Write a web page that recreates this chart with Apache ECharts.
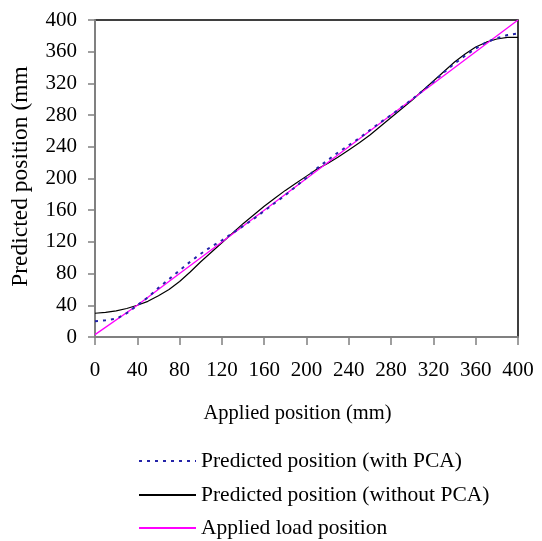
<!DOCTYPE html>
<html>
<head>
<meta charset="utf-8">
<script src="https://cdn.jsdelivr.net/npm/echarts@6/dist/echarts.min.js"></script>
<style>
  html, body { margin: 0; padding: 0; background: #fff; }
  #box { width: 542px; height: 541px; }
</style>
</head>
<body>
<div id="box"></div>
<script>
// applied position (mm), sampled every 10 mm
const appliedX = [0, 10, 20, 30, 40, 50, 60, 70, 80, 90, 100, 110, 120, 130, 140, 150, 160, 170, 180, 190, 200,
  210, 220, 230, 240, 250, 260, 270, 280, 290, 300, 310, 320, 330, 340, 350, 360, 370, 380, 390, 400];
// predicted position with PCA (dotted)
const withPca = [20, 21, 23, 30, 40, 50, 62, 73, 84, 95, 105, 114, 122, 131, 140, 149, 159, 169, 179, 190, 201,
  213, 223, 233, 242, 251, 261, 271, 280, 290, 300, 311, 322, 334, 345, 355, 364, 372, 377, 381, 383];
// predicted position without PCA (black)
const withoutPca = [30, 31, 33, 36, 40, 45, 52, 60, 70, 82, 95, 107, 119, 131, 143, 154, 165, 175, 185, 194, 203,
  212, 219, 227, 236, 245, 255, 266, 277, 288, 299, 311, 323, 335, 347, 357, 366, 372, 376, 378, 378];
// applied load position (reference line)
const loadX = [0, 40, 80, 120, 160, 200, 240, 280, 320, 360, 400];
const loadY = [3, 40, 80, 120, 160, 200, 240, 280, 320, 360, 400];

const seriesNames = ["Predicted position (with PCA)", "Predicted position (without PCA)", "Applied load position"];
const serif = "Liberation Serif";

let chart = echarts.init(document.getElementById("box"));

// one legend per row so the rows stay in a single column
const legendTops = [445, 479, 512];
const legends = seriesNames.map((name, i) => ({
  data: [name],
  left: 133,
  top: legendTops[i],
  itemWidth: 57,
  itemHeight: 14,
  itemStyle: { color: "rgba(0,0,0,0)", borderWidth: 0 },
  textStyle: { fontFamily: serif, fontSize: 21.5, color: "#000" }
}));

let option = {
  backgroundColor: "#fff",
  animation: false,
  grid: {
    left: 95, top: 20, right: 24, bottom: 204,
    show: true, borderColor: "#000", borderWidth: 1.5
  },
  legend: legends,
  xAxis: {
    type: "value",
    min: 0, max: 400, interval: 40,
    name: "Applied position (mm)",
    nameLocation: "middle",
    nameGap: 66,
    nameTextStyle: { fontFamily: serif, fontSize: 20.5, color: "#000", padding: [0, 18, 0, 0] },
    axisLine: { lineStyle: { color: "#808080", width: 2 } },
    axisTick: { show: true, length: 8, lineStyle: { color: "#808080", width: 1.5 } },
    axisLabel: { margin: 23, fontFamily: serif, fontSize: 21, color: "#000" },
    splitLine: { show: false }
  },
  yAxis: {
    type: "value",
    min: 0, max: 400, interval: 40,
    name: "Predicted position (mm",
    nameLocation: "middle",
    nameGap: 62,
    nameTextStyle: { fontFamily: serif, fontSize: 23.5, color: "#000", padding: [0, 0, 0, 4] },
    axisLine: { lineStyle: { color: "#808080", width: 2 } },
    axisTick: { show: true, length: 7, lineStyle: { color: "#808080", width: 1.5 } },
    axisLabel: { margin: 18, fontFamily: serif, fontSize: 21, color: "#000" },
    splitLine: { show: false }
  },
  series: [
    {
      name: seriesNames[0],
      type: "line",
      symbol: "none",
      z: 4,
      data: appliedX.map((x, i) => [x, withPca[i]]),
      lineStyle: { color: "#2323a8", width: 2, type: [3, 5] },
      itemStyle: { color: "#2323a8" }
    },
    {
      name: seriesNames[1],
      type: "line",
      symbol: "none",
      z: 2,
      data: appliedX.map((x, i) => [x, withoutPca[i]]),
      lineStyle: { color: "#000", width: 1.2 },
      itemStyle: { color: "#000" }
    },
    {
      name: seriesNames[2],
      type: "line",
      symbol: "none",
      z: 3,
      data: loadX.map((x, i) => [x, loadY[i]]),
      lineStyle: { color: "#ff00ff", width: 1.3 },
      itemStyle: { color: "#ff00ff" }
    }
  ]
};
chart.setOption(option);
</script>
</body>
</html>
